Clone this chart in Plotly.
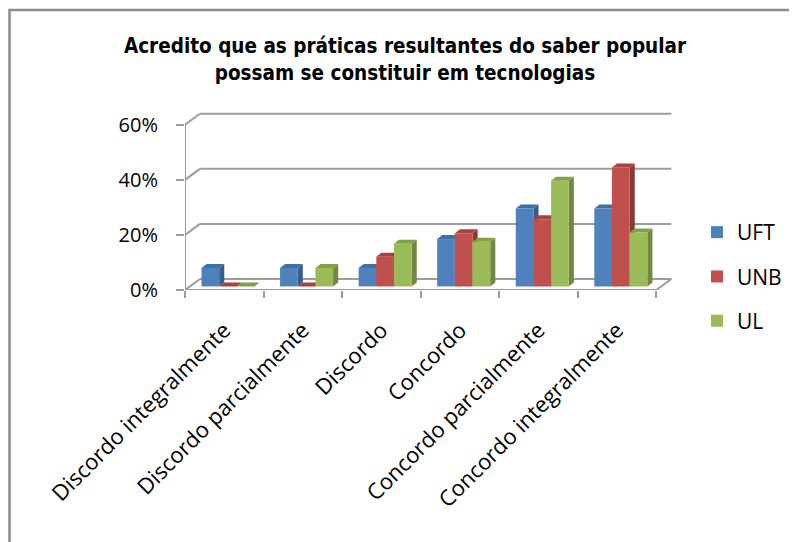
import plotly.graph_objects as go

categories = ["Discordo integralmente", "Discordo parcialmente", "Discordo",
              "Concordo", "Concordo parcialmente", "Concordo integralmente"]
series_names = ["UFT", "UNB", "UL"]
uft = [6.7, 6.7, 6.7, 17.2, 28.3, 28.3]
unb = [0.0, 0.0, 10.8, 19.3, 24.4, 43.2]
ul = [0.0, 6.7, 15.5, 16.2, 38.4, 19.6]
y_ticks = [0, 20, 40, 60]
y_tick_text = ["0%", "20%", "40%", "60%"]

front_colors = ["#4F81BD", "#C0504D", "#9BBB59"]
side_colors = ["#385D8A", "#8C3836", "#71893F"]
top_colors = ["#3F6FA6", "#A4433F", "#82A049"]

OFF = 8  # page body margin
W, H = 797 - OFF, 542 - OFF
ML, MR, MT, MB = 185 - OFF, 121, 111 - OFF, 252
XR = [-0.5, 5.75]
YR = [0, 65]
pw = W - ML - MR
ph = H - MT - MB

# 3D-look parameters (axis units)
wall_dx, wall_dy = 0.19, 4.0
bar_dx, bar_dy = 0.065, 1.45
bar_base = 1.3
bar_w = 0.225
offsets = [-0.29, -0.065, 0.16]

fig = go.Figure()
shapes = []
grid_col = "#9C9C9C"

# back wall gridlines + connectors
for t in y_ticks:
    shapes.append(dict(type="line", xref="x", yref="y", x0=-0.5, y0=t,
                       x1=-0.5 + wall_dx, y1=t + wall_dy,
                       line=dict(color=grid_col, width=2), layer="below"))
    shapes.append(dict(type="line", xref="x", yref="y", x0=-0.5 + wall_dx, y0=t + wall_dy,
                       x1=5.5 + wall_dx, y1=t + wall_dy,
                       line=dict(color=grid_col, width=2), layer="below"))
# floor front edge and right diagonal
shapes.append(dict(type="line", xref="x", yref="y", x0=-0.5, y0=0, x1=5.5, y1=0,
                   line=dict(color=grid_col, width=2), layer="below"))
shapes.append(dict(type="line", xref="x", yref="y", x0=5.5, y0=0,
                   x1=5.5 + wall_dx, y1=wall_dy,
                   line=dict(color=grid_col, width=2), layer="below"))
# front vertical axis
shapes.append(dict(type="line", xref="x", yref="y", x0=-0.5, y0=0, x1=-0.5, y1=60,
                   line=dict(color=grid_col, width=2), layer="below"))

all_vals = [uft, unb, ul]
for s, vals in enumerate(all_vals):
    for i, v in enumerate(vals):
        x0 = i + offsets[s]
        x1 = x0 + bar_w
        top = bar_base + v
        side = (f"M {x1},{bar_base} L {x1 + bar_dx},{bar_base + bar_dy} "
                f"L {x1 + bar_dx},{top + bar_dy} L {x1},{top} Z")
        topf = (f"M {x0},{top} L {x0 + bar_dx},{top + bar_dy} "
                f"L {x1 + bar_dx},{top + bar_dy} L {x1},{top} Z")
        shapes.append(dict(type="path", xref="x", yref="y", path=side,
                           fillcolor=side_colors[s], line=dict(width=0), layer="below"))
        shapes.append(dict(type="path", xref="x", yref="y", path=topf,
                           fillcolor=top_colors[s], line=dict(width=0), layer="below"))

for s, vals in enumerate(all_vals):
    fig.add_trace(go.Bar(
        x=categories, y=vals, base=bar_base, name=series_names[s],
        offset=offsets[s], width=bar_w,
        marker=dict(color=front_colors[s], line=dict(width=0)),
        legendgroup=series_names[s],
    ))

def px_to_paper_x(px):
    return (px - OFF - ML) / pw

def px_to_paper_y(py):
    return (H - MB - (py - OFF)) / ph

# outer chart border (top and left visible)
shapes.append(dict(type="path", xref="paper", yref="paper",
                   path=(f"M {px_to_paper_x(9.5)},{px_to_paper_y(560)} "
                         f"L {px_to_paper_x(9.5)},{px_to_paper_y(10)} "
                         f"L {px_to_paper_x(820)},{px_to_paper_y(10)}"),
                   line=dict(color="#8C8C8C", width=2.5), layer="above"))

fig.update_layout(
    width=W, height=H,
    margin=dict(l=ML, r=MR, t=MT, b=MB, autoexpand=False),
    paper_bgcolor="white", plot_bgcolor="white",
    barmode="overlay",
    showlegend=True,
    title=dict(text="Acredito que as práticas resultantes do saber popular<br>possam se constituir em tecnologias",
               x=(405 - OFF) / W, xanchor="center", y=1 - 45 / H, yanchor="middle", yref="container",
               font=dict(family="DejaVu Sans Condensed, sans-serif",
                         size=20.5, color="black", weight="bold")),
    font=dict(family="Open Sans, sans-serif", color="black"),
    xaxis=dict(range=XR, type="category", showgrid=False, showline=False, zeroline=False,
               automargin=False,
               tickson="boundaries", ticks="outside", ticklen=7, tickwidth=2, tickcolor=grid_col,
               tickangle=-45, tickfont=dict(size=22), ticklabelstandoff=22, fixedrange=True),
    yaxis=dict(range=YR, showgrid=False, showline=False, zeroline=False, automargin=False,
               tickvals=y_ticks, ticktext=y_tick_text, ticks="outside", ticklen=8, tickwidth=2,
               tickcolor=grid_col, tickfont=dict(size=20), ticklabelstandoff=14, fixedrange=True),
    legend=dict(x=px_to_paper_x(697), y=px_to_paper_y(212), xanchor="left", yanchor="top",
                font=dict(size=21), tracegroupgap=14, traceorder="grouped",
                bgcolor="rgba(0,0,0,0)"),
    shapes=shapes,
)

fig.write_html("out.html")
